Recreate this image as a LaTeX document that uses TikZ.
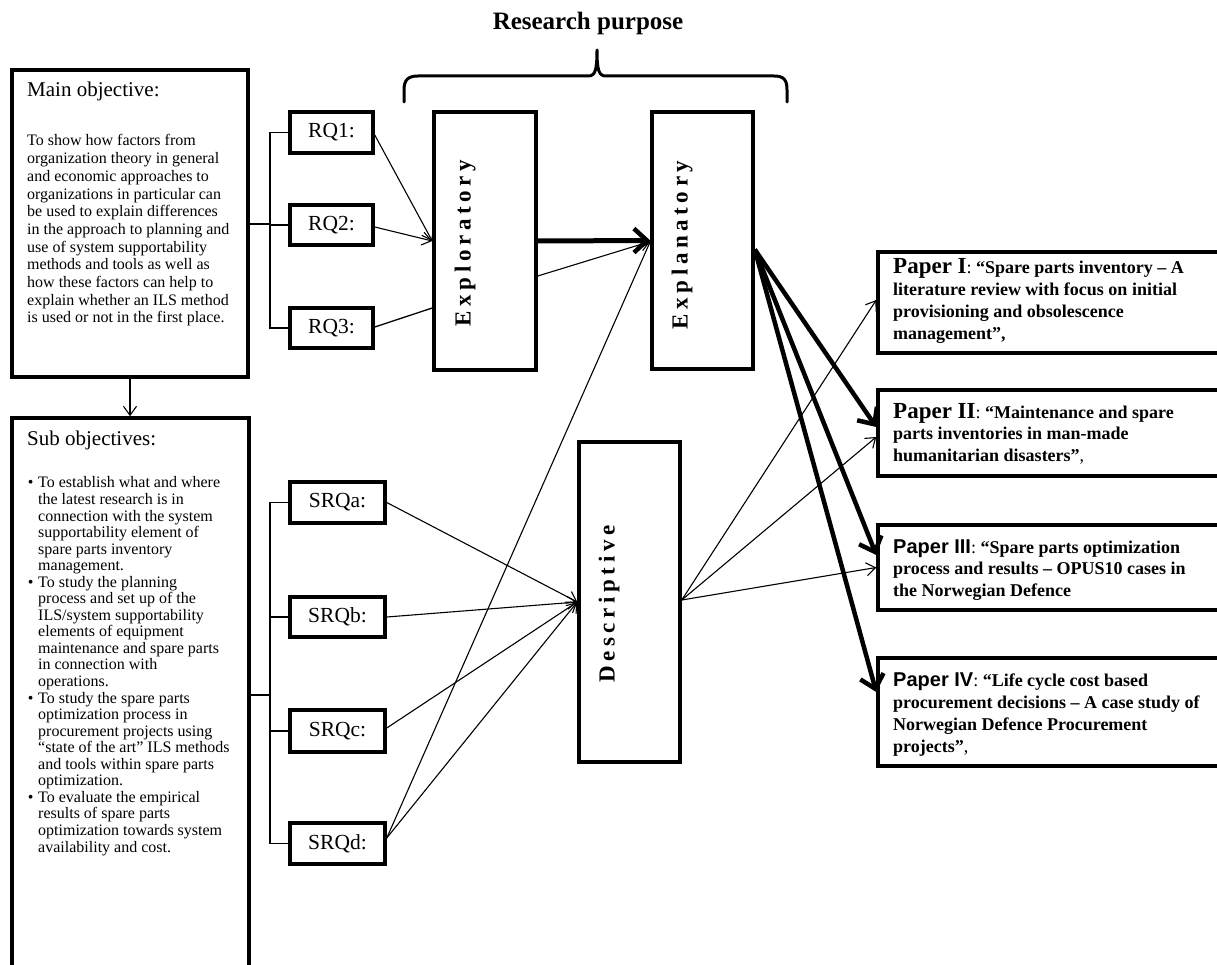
\documentclass[tikz,border=0pt]{standalone}
\usepackage{fontspec}
\setmainfont{Liberation Serif}
\newfontfamily\arialfont{Liberation Sans}
\newfontfamily\spacedfont{Liberation Serif}[LetterSpace=20]
\usetikzlibrary{arrows.meta}

\newcommand\subbullet{\makebox[15pt][c]{\textbullet}}
\newcommand\subindent{\hspace*{15pt}}

\begin{document}
\begin{tikzpicture}[x=1pt,y=-1pt,
  box/.style={draw, line width=3.5pt, inner sep=0pt},
  qbox/.style={box, font=\fontsize{21.5}{24}\selectfont},
  % multi-line text blocks are placed by the baseline of their last line
  bodytext/.style={inner sep=0pt, anchor=base west, align=left},
  titletext/.style={inner sep=0pt, anchor=base west, font=\fontsize{21}{24}\selectfont},
  vlabel/.style={inner sep=0pt, rotate=90, font=\spacedfont\bfseries\fontsize{23}{26}\selectfont},
  papertext/.style={bodytext, font=\bfseries\fontsize{18}{21.7}\selectfont},
  conn/.style={line width=1.3pt},
  thinarrow/.style={line width=1.1pt, -{Straight Barb[length=9pt,width=13pt,line width=1.1pt]}},
  thickarrow/.style={line width=4.5pt, -{Straight Barb[length=13pt,width=24pt,line width=4.5pt]}}
]
\useasboundingbox (0,0) rectangle (1217,965);
\clip (0,0) rectangle (1217,965);

% heading and brace over the three purposes
\node[inner sep=0pt, anchor=base, font=\bfseries\fontsize{25}{28}\selectfont] (purpose) at (588,30) {Research purpose};
\draw[line width=3pt, line cap=round, line join=round]
  (404,102) -- (404,90) .. controls (404,80) and (408,76) .. (418,76) -- (588,76)
  .. controls (595,76) and (597,71) .. (597,50)
  .. controls (597,71) and (599,76) .. (606,76) -- (774,76)
  .. controls (784,76) and (787,80) .. (787,90) -- (787,102);

% objective boxes
\node[box, minimum width=236pt, minimum height=307pt] (mainbox) at (130,223.5) {};
\node[titletext] (maintitle) at (27,97) {Main objective:};
\node[bodytext, font=\fontsize{16}{17.7}\selectfont] (maintext) at (27,323) {To show how factors from\\
organization theory in general\\
and economic approaches to\\
organizations in particular can\\
be used to explain differences\\
in the approach to planning and\\
use of system supportability\\
methods and tools as well as\\
how these factors can help to\\
explain whether an ILS method\\
is used or not in the first place.};

\node[box, minimum width=237pt, minimum height=572pt] (subbox) at (130.5,704) {};
\node[titletext] (subtitle) at (27,445) {Sub objectives:};
\node[bodytext, font=\fontsize{16}{16.55}\selectfont] (subtext) at (23,852) {\subbullet To establish what and where\\
\subindent the latest research is in\\
\subindent connection with the system\\
\subindent supportability element of\\
\subindent spare parts inventory\\
\subindent management.\\
\subbullet To study the planning\\
\subindent process and set up of the\\
\subindent ILS/system supportability\\
\subindent elements of equipment\\
\subindent maintenance and spare parts\\
\subindent in connection with\\
\subindent operations.\\
\subbullet To study the spare parts\\
\subindent optimization process in\\
\subindent procurement projects using\\
\subindent “state of the art” ILS methods\\
\subindent and tools within spare parts\\
\subindent optimization.\\
\subbullet To evaluate the empirical\\
\subindent results of spare parts\\
\subindent optimization towards system\\
\subindent availability and cost.};

% research questions
\node[qbox, minimum width=83pt, minimum height=41pt] (rq1) at (331.5,132.5) {RQ1:};
\node[qbox, minimum width=83pt, minimum height=40pt] (rq2) at (331.5,225) {RQ2:};
\node[qbox, minimum width=83pt, minimum height=40pt] (rq3) at (331.5,328) {RQ3:};
\node[qbox, minimum width=95pt, minimum height=41pt] (srqa) at (337.5,502.5) {SRQa:};
\node[qbox, minimum width=95pt, minimum height=40pt] (srqb) at (337.5,617) {SRQb:};
\node[qbox, minimum width=95pt, minimum height=42pt] (srqc) at (337.5,731) {SRQc:};
\node[qbox, minimum width=95pt, minimum height=41pt] (srqd) at (337.5,843.5) {SRQd:};

% research purposes
\node[box, minimum width=102pt, minimum height=258pt] (explo) at (485,241) {};
\node[vlabel] (explolabel) at (465,243) {Exploratory};
\node[box, minimum width=101pt, minimum height=257pt] (expla) at (702.5,240.5) {};
\node[vlabel] (explalabel) at (682,245) {Explanatory};
\node[box, minimum width=101pt, minimum height=320pt] (desc) at (629.5,602) {};
\node[vlabel] (desclabel) at (609,604) {Descriptive};

% papers
\node[box, minimum width=352pt, minimum height=101pt] (p1) at (1054,302.5) {};
\node[papertext] (p1text) at (893,339) {{\fontsize{23}{21.7}\selectfont Paper I}\textmd{:} “Spare parts inventory – A\\
literature review with focus on initial\\
provisioning and obsolescence\\
management”,};
\node[box, minimum width=352pt, minimum height=86pt] (p2) at (1054,433) {};
\node[papertext] (p2text) at (893,461.5) {{\fontsize{23}{21.7}\selectfont Paper II}\textmd{:} “Maintenance and spare\\
parts inventories in man-made\\
humanitarian disasters”\textmd{,}};
\node[box, minimum width=352pt, minimum height=85pt] (p3) at (1054,567.5) {};
\node[papertext] (p3text) at (893,596.5) {{\arialfont\fontsize{20}{21.7}\selectfont Paper III}\textmd{:} “Spare parts optimization\\
process and results – OPUS10 cases in\\
the Norwegian Defence};
\node[box, minimum width=352pt, minimum height=108pt] (p4) at (1054,712) {};
\node[papertext] (p4text) at (893,752) {{\arialfont\fontsize{20}{21.7}\selectfont Paper IV}\textmd{:} “Life cycle cost based\\
procurement decisions – A case study of\\
Norwegian Defence Procurement\\
projects”\textmd{,}};

% tree connectors from the objectives
\coordinate (rqjoint) at (270,224);
\draw[conn] (mainbox.east |- rqjoint) -- (rqjoint);
\draw[conn] (rq1.west) -- (rq1.west -| rqjoint) -- (rq3.west -| rqjoint) -- (rq3.west);
\draw[conn] (rq2.west) -- (rq2.west -| rqjoint);
\coordinate (srqjoint) at (270,695);
\draw[conn] (subbox.east |- srqjoint) -- (srqjoint);
\draw[conn] (srqa.west) -- (srqa.west -| srqjoint) -- (srqd.west -| srqjoint) -- (srqd.west);
\draw[conn] (srqb.west) -- (srqb.west -| srqjoint);
\draw[conn] (srqc.west) -- (srqc.west -| srqjoint);
\draw[thinarrow] (mainbox.south) -- (mainbox.south |- subbox.north);

% questions to purposes
\draw[thinarrow] ([yshift=-2.5pt]rq1.east) -- (explo.west);
\draw[thinarrow] ([yshift=-2pt]rq2.east) -- (explo.west);
\draw[conn] ([yshift=1pt]rq3.east) -- ([yshift=-67pt]explo.west);
\draw[thickarrow, line width=5pt] (explo.east) -- (expla.west);
\draw[thinarrow] ([yshift=-35pt]explo.east) -- ([yshift=-1pt]expla.west);
\draw[thinarrow] (srqa.east) -- (desc.west);
\draw[thinarrow] (srqb.east) -- (desc.west);
\draw[thinarrow] ([yshift=3pt]srqc.east) -- (desc.west);
\draw[thinarrow] ([yshift=5.5pt]srqd.east) -- (desc.west);
\draw[thinarrow] ([yshift=5.5pt]srqd.east) -- ([yshift=-1pt]expla.west);

% purposes to papers
\draw[thinarrow] ([yshift=2pt]desc.east) -- ([yshift=2.5pt]p1.west);
\draw[thinarrow] ([yshift=2pt]desc.east) -- ([yshift=-4pt]p2.west);
\draw[thinarrow] ([yshift=2pt]desc.east) -- (p3.west);
\draw[thickarrow] ([yshift=-9pt]expla.east) -- ([yshift=6pt]p2.west);
\draw[thickarrow] ([yshift=-9pt]expla.east) -- ([yshift=12.5pt]p3.west);
\draw[thickarrow] ([yshift=-9pt]expla.east) -- ([yshift=20pt]p4.west);
\end{tikzpicture}
\end{document}
